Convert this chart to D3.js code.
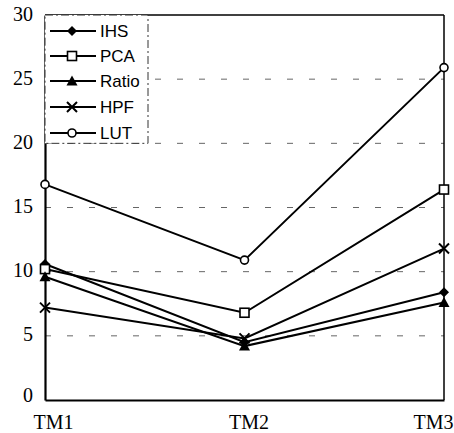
<!DOCTYPE html>
<html><head><meta charset="utf-8">
<script src="https://cdn.jsdelivr.net/npm/d3@7"></script>
<style>body{margin:0;background:#fff;} svg{display:block;}</style>
</head><body>
<svg id="c" width="454" height="433"></svg>
<script>
const categories = ["TM1", "TM2", "TM3"];
const seriesNames = ["IHS", "PCA", "Ratio", "HPF", "LUT"];
const IHS   = [10.6, 4.5, 8.4];
const PCA   = [10.2, 6.8, 16.4];
const Ratio = [9.6, 4.2, 7.6];
const HPF   = [7.2, 4.8, 11.8];
const LUT   = [16.8, 10.9, 25.9];
const yTicks = [0, 5, 10, 15, 20, 25, 30];
const gridTicks = [5, 10, 15, 20, 25];

const seriesValues = [IHS, PCA, Ratio, HPF, LUT];
const symbols = ["diamond", "square", "triangle", "cross", "circle"];

const svg = d3.select("#c");
const L = 45, R = 444, T = 15, B = 400;
const x = d3.scalePoint().domain(categories).range([L, R]);
const y = d3.scaleLinear().domain([0, 30]).range([B, T]);

// grid
svg.append("g").selectAll("line").data(gridTicks).join("line")
  .attr("x1", L).attr("x2", R).attr("y1", d => y(d)).attr("y2", d => y(d))
  .attr("stroke", "#666").attr("stroke-width", 1).attr("stroke-dasharray", "6,16");

// frame
svg.append("line").attr("x1", L).attr("x2", R).attr("y1", T).attr("y2", T).attr("stroke", "#000").attr("stroke-width", 1.5);
svg.append("line").attr("x1", R).attr("x2", R).attr("y1", T).attr("y2", B).attr("stroke", "#000").attr("stroke-width", 1.5);

// axes
const yAxis = svg.append("g").attr("transform", `translate(${L},0)`)
  .call(d3.axisLeft(y).tickValues(yTicks).tickSize(0).tickPadding(12));
yAxis.select(".domain").attr("stroke", "#000").attr("stroke-width", 2.2);
yAxis.selectAll("text").attr("font-family", "Liberation Serif, Times New Roman, serif").attr("font-size", 20).attr("fill", "#000")
  .attr("dy", d => d === 0 ? "0.05em" : "0.25em");

const xAxis = svg.append("g").attr("transform", `translate(0,${B})`)
  .call(d3.axisBottom(x).tickSize(0).tickPadding(10));
xAxis.select(".domain").attr("stroke", "#000").attr("stroke-width", 2);
xAxis.selectAll("text").attr("font-family", "Liberation Serif, Times New Roman, serif").attr("font-size", 20).attr("fill", "#000")
  .attr("dy", "0.95em")
  .attr("dx", (d, i) => i === 0 ? 8 : (i === 2 ? -11 : 4));

// marker drawer
function drawMarker(g, type, cx, cy) {
  if (type === "diamond") {
    g.append("path").attr("d", `M${cx},${cy-5}L${cx+5},${cy}L${cx},${cy+5}L${cx-5},${cy}Z`).attr("fill", "#000");
  } else if (type === "square") {
    g.append("rect").attr("x", cx-4.5).attr("y", cy-4.5).attr("width", 9).attr("height", 9).attr("fill", "#fff").attr("stroke", "#000").attr("stroke-width", 1.6);
  } else if (type === "triangle") {
    g.append("path").attr("d", `M${cx},${cy-5.5}L${cx+5.5},${cy+4.5}L${cx-5.5},${cy+4.5}Z`).attr("fill", "#000");
  } else if (type === "cross") {
    g.append("path").attr("d", `M${cx-5},${cy-5}L${cx+5},${cy+5}M${cx-5},${cy+5}L${cx+5},${cy-5}`).attr("stroke", "#000").attr("stroke-width", 2);
  } else if (type === "circle") {
    g.append("circle").attr("cx", cx).attr("cy", cy).attr("r", 4).attr("fill", "#fff").attr("stroke", "#000").attr("stroke-width", 1.6);
  }
}

const line = d3.line().x((d, i) => x(categories[i])).y(d => y(d));
seriesValues.forEach((vals, si) => {
  const g = svg.append("g");
  g.append("path").datum(vals).attr("d", line).attr("fill", "none").attr("stroke", "#000").attr("stroke-width", 2);
  vals.forEach((v, i) => drawMarker(g, symbols[si], x(categories[i]), y(v)));
});

// legend
const lg = svg.append("g");
lg.append("rect").attr("x", L).attr("y", T).attr("width", 103).attr("height", y(20) - T)
  .attr("fill", "#fff").attr("stroke", "#333").attr("stroke-width", 1).attr("stroke-dasharray", "8,3,2,3");
const legY = [31, 56, 81, 107, 133];
seriesNames.forEach((n, i) => {
  lg.append("line").attr("x1", 50).attr("x2", 96).attr("y1", legY[i]).attr("y2", legY[i]).attr("stroke", "#000").attr("stroke-width", 2);
  drawMarker(lg, symbols[i], 72, legY[i]);
  lg.append("text").attr("x", 100).attr("y", legY[i]).attr("dy", "0.36em")
    .attr("font-family", "Liberation Sans, Arial, sans-serif").attr("font-size", 17).text(n);
});
</script>
</body></html>
